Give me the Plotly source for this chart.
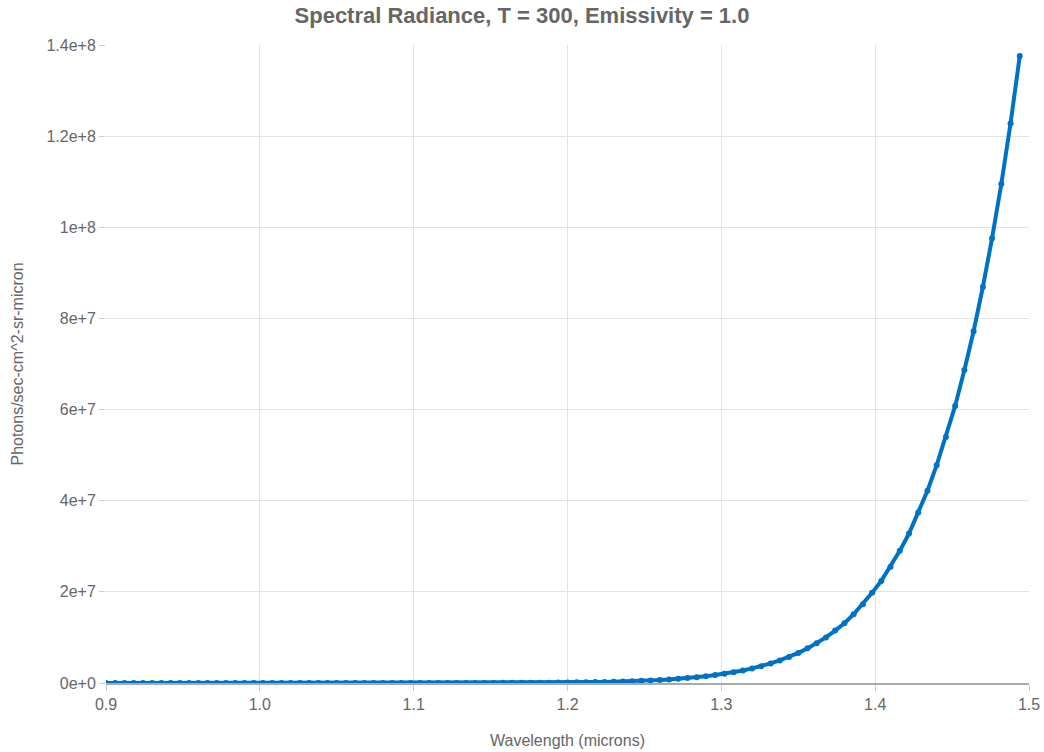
import plotly.graph_objects as go

# Wavelengths (microns): 100 samples from 0.9 in steps of 0.006
wavelengths = [round(0.9 + 0.006 * i, 3) for i in range(100)]

# Photon radiance values (photons/sec-cm^2-sr-micron)
radiance = [
    0.11, 0.17, 0.25, 0.36, 0.52, 0.75, 1.1, 1.5, 2.2, 3.1,
    4.4, 6.1, 8.5, 12, 16, 22, 30, 41, 55, 74,
    98, 130, 175, 230, 300, 390, 510, 670, 860, 1100,
    1450, 1850, 2350, 3000, 3800, 4800, 6100, 7700, 9600, 1.2e4,
    1.5e4, 1.85e4, 2.3e4, 2.85e4, 3.5e4, 4.3e4, 5.3e4, 6.4e4, 7.8e4, 9.5e4,
    1.15e5, 1.39e5, 1.67e5, 2.0e5, 2.4e5, 2.85e5, 3.4e5, 4.05e5, 4.8e5, 5.7e5,
    6.7e5, 7.9e5, 9.3e5, 1.09e6, 1.28e6, 1.50e6, 1.75e6, 2.04e6, 2.37e6, 2.75e6,
    3.2e6, 3.7e6, 4.3e6, 4.95e6, 5.7e6, 6.6e6, 7.6e6, 8.7e6, 1.0e7, 1.15e7,
    1.31e7, 1.51e7, 1.73e7, 1.98e7, 2.24e7, 2.55e7, 2.90e7, 3.28e7, 3.74e7, 4.22e7,
    4.78e7, 5.40e7, 6.08e7, 6.87e7, 7.72e7, 8.69e7, 9.76e7, 1.095e8, 1.228e8, 1.376e8,
]

x_tick_vals = [0.9, 1.0, 1.1, 1.2, 1.3, 1.4, 1.5]
x_tick_text = ["0.9", "1.0", "1.1", "1.2", "1.3", "1.4", "1.5"]
y_tick_vals = [0, 2e7, 4e7, 6e7, 8e7, 1e8, 1.2e8, 1.4e8]
y_tick_text = ["0e+0", "2e+7", "4e+7", "6e+7", "8e+7", "1e+8", "1.2e+8", "1.4e+8"]

LINE_COLOR = "#0072C6"
TEXT_COLOR = "#666666"
GRID_COLOR = "#e3e3e3"

fig = go.Figure()
fig.add_trace(go.Scatter(
    x=wavelengths,
    y=radiance,
    mode="lines+markers",
    line=dict(color=LINE_COLOR, width=4),
    marker=dict(color=LINE_COLOR, size=6),
    showlegend=False,
))

fig.update_layout(
    width=1044,
    height=752,
    margin=dict(l=106, r=15, t=45, b=69),
    paper_bgcolor="white",
    plot_bgcolor="white",
    font=dict(family="Liberation Sans, Arial, sans-serif", color=TEXT_COLOR, size=16),
    title=dict(
        text="<b>Spectral Radiance, T = 300, Emissivity = 1.0</b>",
        x=0.5, xref="container", xanchor="center",
        y=1 - 15 / 752, yanchor="middle",
        font=dict(size=22, color=TEXT_COLOR),
    ),
    xaxis=dict(
        range=[0.9, 1.5],
        tickvals=x_tick_vals,
        ticktext=x_tick_text,
        showgrid=True,
        gridcolor=GRID_COLOR,
        gridwidth=1,
        zeroline=False,
        showline=True,
        linecolor="#aaaaaa",
        linewidth=1.5,
        ticks="outside",
        ticklen=6,
        tickcolor="#cccccc",
        tickfont=dict(size=16, color=TEXT_COLOR),
        title=dict(text="Wavelength (microns)", standoff=23,
                   font=dict(size=16, color=TEXT_COLOR)),
        automargin=False,
    ),
    yaxis=dict(
        range=[0, 1.4e8],
        tickvals=y_tick_vals,
        ticktext=y_tick_text,
        showgrid=True,
        gridcolor=GRID_COLOR,
        gridwidth=1,
        zeroline=False,
        showline=False,
        ticks="outside",
        ticklen=6,
        tickcolor="#cccccc",
        tickfont=dict(size=16, color=TEXT_COLOR),
        title=dict(text="Photons/sec-cm^2-sr-micron", standoff=18,
                   font=dict(size=16, color=TEXT_COLOR)),
        automargin=False,
    ),
)

fig.write_html(
    "out.html",
    config={"displayModeBar": False},
    post_script="document.body.style.margin='0';document.body.style.overflow='hidden';",
)
